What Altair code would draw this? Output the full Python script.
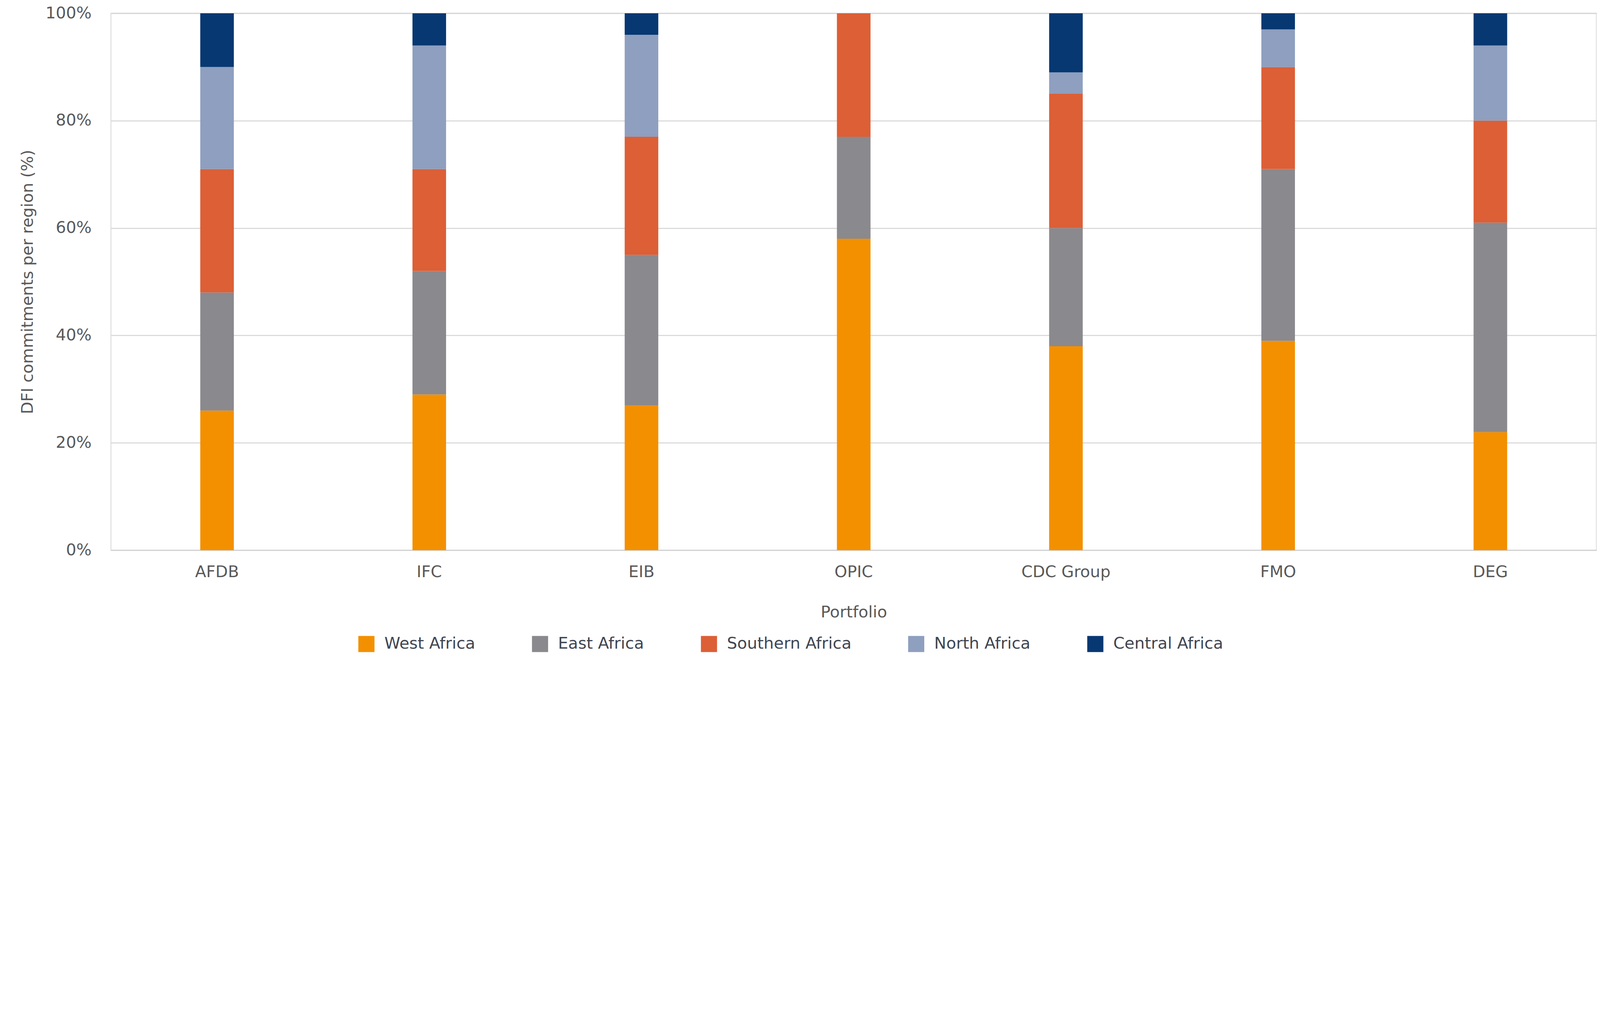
import altair as alt
import pandas as pd

portfolios = ["AFDB", "IFC", "EIB", "OPIC", "CDC Group", "FMO", "DEG"]
regions = ["West Africa", "East Africa", "Southern Africa", "North Africa", "Central Africa"]
colors = ["#F39000", "#8A898E", "#DC5F36", "#8E9FBF", "#073872"]

west_africa = [26, 29, 27, 58, 38, 39, 22]
east_africa = [22, 23, 28, 19, 22, 32, 39]
southern_africa = [23, 19, 22, 23, 25, 19, 19]
north_africa = [19, 23, 19, 0, 4, 7, 14]
central_africa = [10, 6, 4, 0, 11, 3, 6]

series = [west_africa, east_africa, southern_africa, north_africa, central_africa]
rows = []
for r_idx, (reg, vals) in enumerate(zip(regions, series)):
    for p, v in zip(portfolios, vals):
        rows.append({"Portfolio": p, "Region": reg, "Share": v, "order": r_idx})
df = pd.DataFrame(rows)

FONT = "DejaVu Sans"
FS = 41.3

chart = (
    alt.Chart(df)
    .mark_bar(size=86)
    .encode(
        x=alt.X(
            "Portfolio:N",
            sort=portfolios,
            scale=alt.Scale(paddingInner=0, paddingOuter=0),
            axis=alt.Axis(
                title="Portfolio",
                labelAngle=0,
                ticks=False,
                tickSize=0,
                labelPadding=35,
                titlePadding=62,
                domainColor="#D3D3D3",
                domainWidth=3.2,
                labelLimit=1000,
            ),
        ),
        y=alt.Y(
            "Share:Q",
            stack="zero",
            scale=alt.Scale(domain=[0, 100], nice=False),
            axis=alt.Axis(
                title="DFI commitments per region (%)",
                values=[0, 20, 40, 60, 80, 100],
                labelExpr="datum.value + '%'",
                ticks=False,
                tickSize=0,
                domain=False,
                labelPadding=50,
                titlePadding=23,
                gridColor="#D4D4D4",
                gridWidth=2.6,
                labelLimit=1000,
                titleLimit=3000,
            ),
        ),
        color=alt.Color(
            "Region:N",
            sort=regions,
            scale=alt.Scale(domain=regions, range=colors),
            legend=alt.Legend(
                title=None,
                orient="none",
                direction="horizontal",
                columns=5,
                legendX=633,
                legendY=1593,
                columnPadding=144.5,
                symbolType="square",
                symbolSize=1705,
                symbolStrokeWidth=0,
                symbolOpacity=1,
                labelOffset=25,
                labelFontSize=FS,
                labelFont=FONT,
                labelColor="#404652",
                labelLimit=1000,
                padding=0,
            ),
        ),
        order=alt.Order("order:Q", sort="ascending"),
    )
    .properties(
        width=3803,
        height=1374,
        background="white",
        autosize=alt.AutoSizeParams(type="none"),
        padding={"left": 276, "top": 26, "right": 1, "bottom": 265},
    )
    .configure_view(stroke="#E4E4E4", strokeWidth=3.2, fill="white")
    .configure_axis(
        labelFont=FONT,
        titleFont=FONT,
        labelFontSize=FS,
        titleFontSize=FS,
        labelColor="#595959",
        titleColor="#595959",
        titleFontWeight="normal",
    )
    .configure_axisX(grid=False)
)

chart.save("out.html", embed_options={"renderer": "svg", "actions": False})
